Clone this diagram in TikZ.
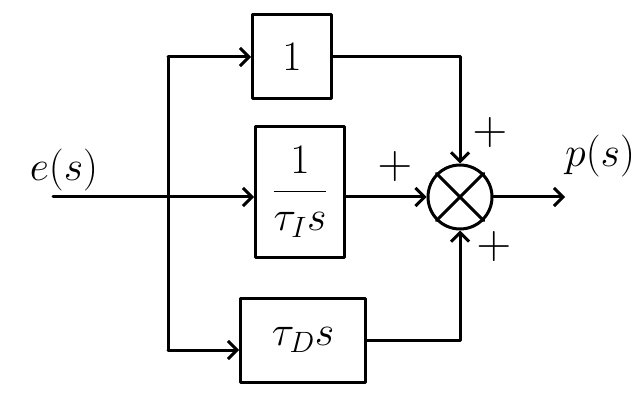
\documentclass[tikz,border=0pt]{standalone}
\usepackage{fix-cm}
\usetikzlibrary{arrows.meta}
\tikzset{
  block/.style={draw, line width=3pt, inner sep=0pt},
  sumnode/.style={draw, circle, line width=3pt, minimum size=64pt, inner sep=0pt},
  sig/.style={line width=3pt, -{Straight Barb[length=9pt,width=18pt,line width=3pt]}},
  wire/.style={line width=3pt},
  sign/.style={font=\fontsize{48}{52}\selectfont},
}
\begin{document}
\begin{tikzpicture}[x=1pt,y=-1pt, line join=round, line cap=round,
    font=\fontsize{42}{48}\selectfont]
  \useasboundingbox (0,0) rectangle (644,395);
  % blocks
  \node[block, minimum width=79pt, minimum height=84pt] (P) at (292,57) {$1$};
  \node[block, minimum width=89pt, minimum height=130pt] (I) at (300,192) {$\displaystyle\frac{1}{\tau_I s}$};
  \node[block, minimum width=125pt, minimum height=84pt] (D) at (303,340) {$\tau_D s$};
  \node[sumnode] (sum) at (460,197) {};
  \draw[wire] (sum.north west) -- (sum.south east);
  \draw[wire] (sum.north east) -- (sum.south west);
  % branch points
  \coordinate (in) at (53,197);
  \coordinate (split) at (168,197);
  \coordinate (top) at (168,57);
  \coordinate (bot) at (168,350);
  \coordinate (out) at (565,197);
  \draw[wire] (in) -- (split);
  \draw[wire] (top) -- (bot);
  \draw[sig] (top) -- (top -| P.west);
  \draw[sig] (split) -- (split -| I.west);
  \draw[sig] (bot) -- (bot -| D.west);
  \draw[sig] (P.east) -| (sum.north);
  \draw[sig] (I.east |- sum) -- (sum.west);
  \draw[sig] (D.east) -| (sum.south);
  \draw[sig] (sum.east) -- (out);
  % labels
  \node (ein) at (64,170) {$e(s)$};
  \node (pout) at (600,156) {$p(s)$};
  \node[sign] (plusP) at (490,133) {$+$};
  \node[sign] (plusI) at (395,167) {$+$};
  \node[sign] (plusD) at (494,247) {$+$};
\end{tikzpicture}
\end{document}
